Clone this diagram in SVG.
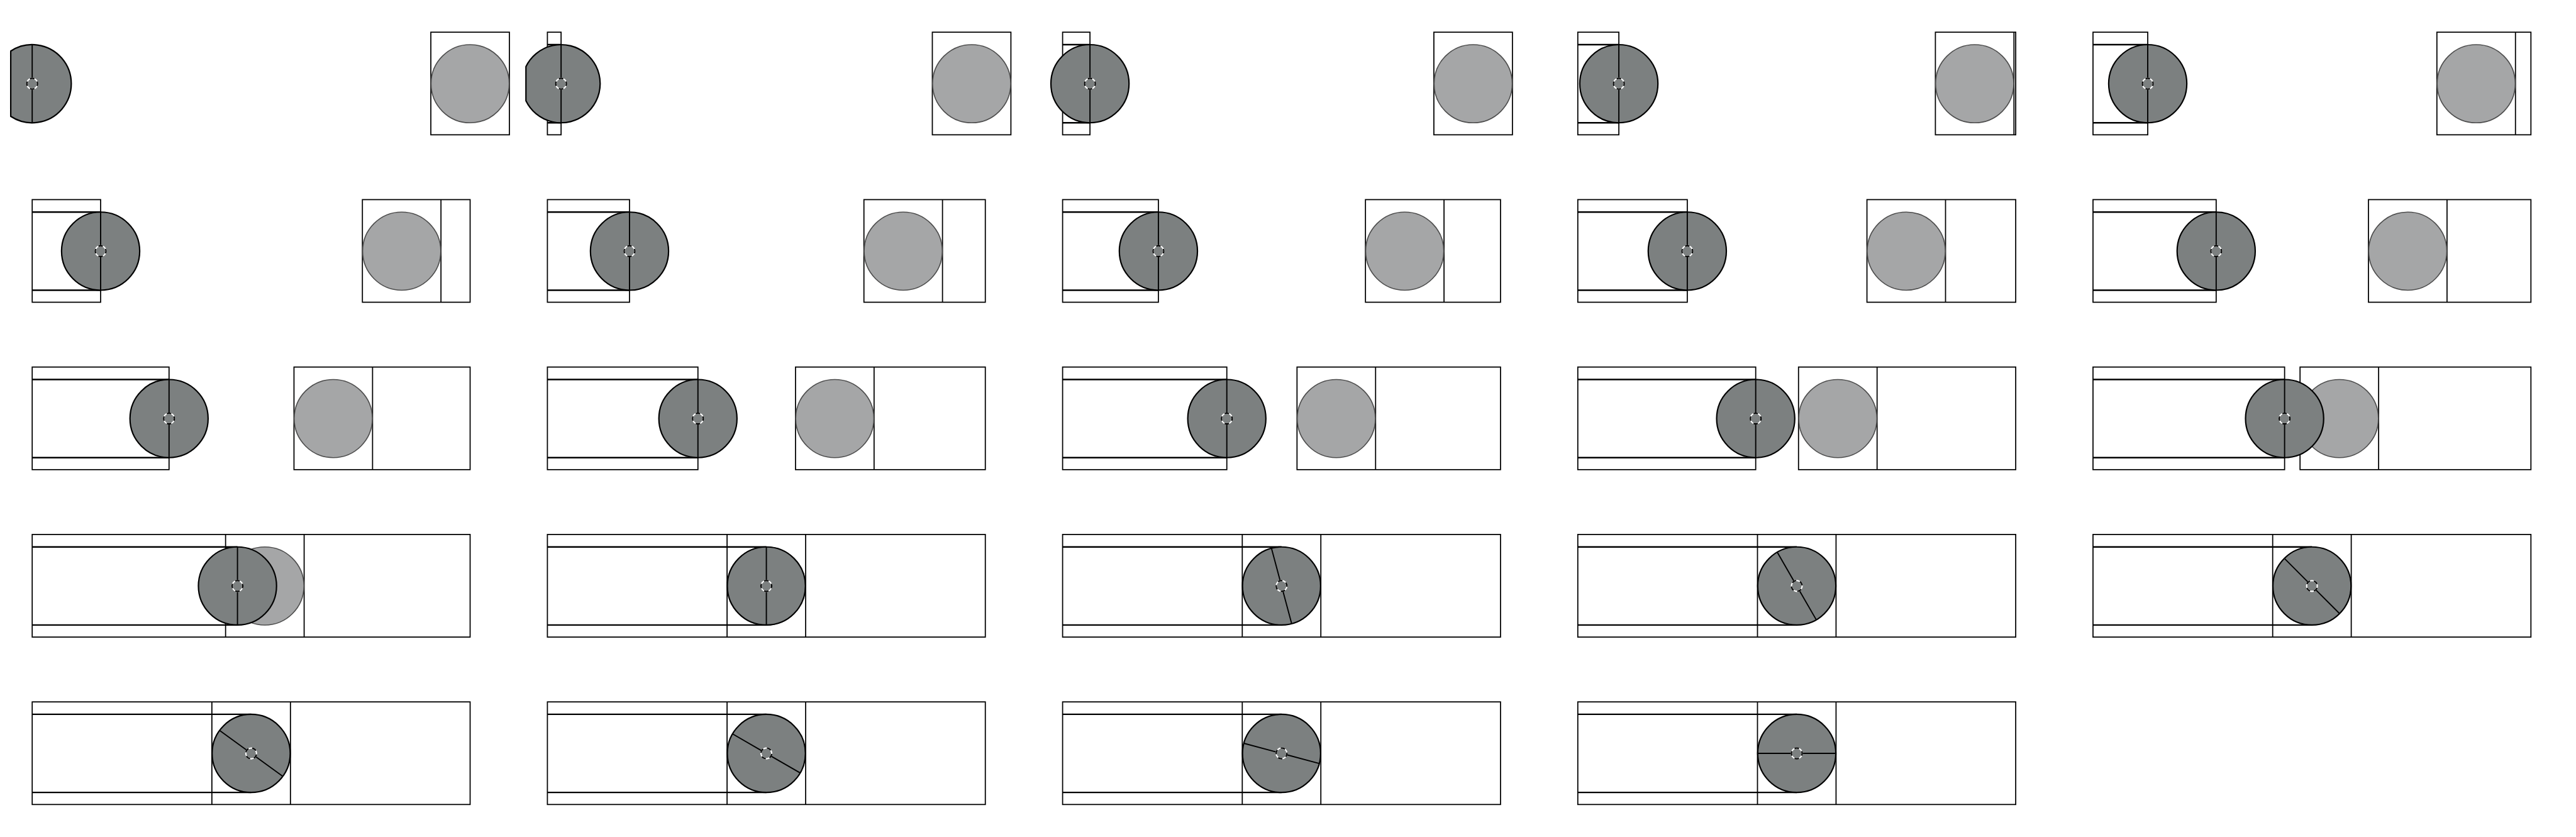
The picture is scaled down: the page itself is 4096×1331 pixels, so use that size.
<svg xmlns="http://www.w3.org/2000/svg" width="4096" height="1331" viewBox="0 0 4096 1331">
<style>
.r{fill:none;stroke:#000;stroke-width:2.6}
.t{fill:none;stroke:#000;stroke-width:3.4}
.l{fill:#a5a6a7;stroke:#4d4d4d;stroke-width:2.4}
.d{fill:#7c8080;stroke:#000;stroke-width:3.2}
.s{fill:none;stroke:#000;stroke-width:2.8}
.hw{fill:none;stroke:#fff;stroke-width:3}
.hb{fill:none;stroke:#000;stroke-width:3;stroke-dasharray:5.4 4.6;stroke-dashoffset:2.7}
</style>
<defs>
<g id="h"><path class="s" d="M0-91V-12.5M0 12.5V91"/><circle class="hw" r="12.5"/><circle class="hb" r="12.5" pathLength="40"/></g>
</defs>
<rect width="4096" height="1331" fill="#fff"/>
<g transform="scale(.682667)">
<g id="f0" transform="translate(75 195)"><rect class="r" x="928.5" y="-120" width="183" height="239"/><circle class="l" cx="1020" r="91"/><path class="d" d="M-50-76A91 91 0 1 1-50 76Z"/><use href="#h"/></g>
<g id="f1" transform="translate(1275 195)"><rect class="r" x="896.6" y="-120" width="183" height="239"/><circle class="l" cx="988.125" r="91"/><rect class="r" y="-120" width="31.875" height="239"/><path class="t" d="M0-91H31.875M0 91H31.875"/><path class="d" transform="translate(31.875)" d="M-81.875-39.7A91 91 0 1 1-81.875 39.7Z"/><use href="#h" transform="translate(31.875)"/></g>
<g id="f2" transform="translate(2475 195)"><rect class="r" x="864.75" y="-120" width="183" height="239"/><circle class="l" cx="956.25" r="91"/><rect class="r" y="-120" width="63.75" height="239"/><path class="t" d="M0-91H63.75M0 91H63.75"/><circle class="d" cx="63.75" r="91"/><use href="#h" transform="translate(63.75)"/></g>
<g id="f3" transform="translate(3675 195)"><rect class="r" x="832.9" y="-120" width="187.1" height="239"/><path class="r" d="M1015.9-120V119"/><circle class="l" cx="924.375" r="91"/><rect class="r" y="-120" width="95.625" height="239"/><path class="t" d="M0-91H95.625M0 91H95.625"/><circle class="d" cx="95.625" r="91"/><use href="#h" transform="translate(95.625)"/></g>
<g id="f4" transform="translate(4875 195)"><rect class="r" x="801" y="-120" width="219" height="239"/><path class="r" d="M984-120V119"/><circle class="l" cx="892.5" r="91"/><rect class="r" y="-120" width="127.5" height="239"/><path class="t" d="M0-91H127.5M0 91H127.5"/><circle class="d" cx="127.5" r="91"/><use href="#h" transform="translate(127.5)"/></g>
<g id="f5" transform="translate(75 585)"><rect class="r" x="769.1" y="-120" width="250.9" height="239"/><path class="r" d="M952.1-120V119"/><circle class="l" cx="860.625" r="91"/><rect class="r" y="-120" width="159.375" height="239"/><path class="t" d="M0-91H159.375M0 91H159.375"/><circle class="d" cx="159.375" r="91"/><use href="#h" transform="translate(159.375)"/></g>
<g id="f6" transform="translate(1275 585)"><rect class="r" x="737.25" y="-120" width="282.75" height="239"/><path class="r" d="M920.25-120V119"/><circle class="l" cx="828.75" r="91"/><rect class="r" y="-120" width="191.25" height="239"/><path class="t" d="M0-91H191.25M0 91H191.25"/><circle class="d" cx="191.25" r="91"/><use href="#h" transform="translate(191.25)"/></g>
<g id="f7" transform="translate(2475 585)"><rect class="r" x="705.4" y="-120" width="314.6" height="239"/><path class="r" d="M888.4-120V119"/><circle class="l" cx="796.875" r="91"/><rect class="r" y="-120" width="223.125" height="239"/><path class="t" d="M0-91H223.125M0 91H223.125"/><circle class="d" cx="223.125" r="91"/><use href="#h" transform="translate(223.125)"/></g>
<g id="f8" transform="translate(3675 585)"><rect class="r" x="673.5" y="-120" width="346.5" height="239"/><path class="r" d="M856.5-120V119"/><circle class="l" cx="765" r="91"/><rect class="r" y="-120" width="255" height="239"/><path class="t" d="M0-91H255M0 91H255"/><circle class="d" cx="255" r="91"/><use href="#h" transform="translate(255)"/></g>
<g id="f9" transform="translate(4875 585)"><rect class="r" x="641.6" y="-120" width="378.4" height="239"/><path class="r" d="M824.6-120V119"/><circle class="l" cx="733.125" r="91"/><rect class="r" y="-120" width="286.875" height="239"/><path class="t" d="M0-91H286.875M0 91H286.875"/><circle class="d" cx="286.875" r="91"/><use href="#h" transform="translate(286.875)"/></g>
<g id="f10" transform="translate(75 975)"><rect class="r" x="609.75" y="-120" width="410.25" height="239"/><path class="r" d="M792.75-120V119"/><circle class="l" cx="701.25" r="91"/><rect class="r" y="-120" width="318.75" height="239"/><path class="t" d="M0-91H318.75M0 91H318.75"/><circle class="d" cx="318.75" r="91"/><use href="#h" transform="translate(318.75)"/></g>
<g id="f11" transform="translate(1275 975)"><rect class="r" x="577.9" y="-120" width="442.1" height="239"/><path class="r" d="M760.9-120V119"/><circle class="l" cx="669.375" r="91"/><rect class="r" y="-120" width="350.625" height="239"/><path class="t" d="M0-91H350.625M0 91H350.625"/><circle class="d" cx="350.625" r="91"/><use href="#h" transform="translate(350.625)"/></g>
<g id="f12" transform="translate(2475 975)"><rect class="r" x="546" y="-120" width="474" height="239"/><path class="r" d="M729-120V119"/><circle class="l" cx="637.5" r="91"/><rect class="r" y="-120" width="382.5" height="239"/><path class="t" d="M0-91H382.5M0 91H382.5"/><circle class="d" cx="382.5" r="91"/><use href="#h" transform="translate(382.5)"/></g>
<g id="f13" transform="translate(3675 975)"><rect class="r" x="514.1" y="-120" width="505.9" height="239"/><path class="r" d="M697.1-120V119"/><circle class="l" cx="605.625" r="91"/><rect class="r" y="-120" width="414.375" height="239"/><path class="t" d="M0-91H414.375M0 91H414.375"/><circle class="d" cx="414.375" r="91"/><use href="#h" transform="translate(414.375)"/></g>
<g id="f14" transform="translate(4875 975)"><rect class="r" x="482.25" y="-120" width="537.75" height="239"/><path class="r" d="M665.25-120V119"/><circle class="l" cx="573.75" r="91"/><rect class="r" y="-120" width="446.25" height="239"/><path class="t" d="M0-91H446.25M0 91H446.25"/><circle class="d" cx="446.25" r="91"/><use href="#h" transform="translate(446.25)"/></g>
<g id="f15" transform="translate(75 1365)"><rect class="r" y="-120" width="1020" height="239"/><path class="r" d="M450.4-120V119M633.4-120V119"/><circle class="l" cx="541.875" r="91"/><path class="t" d="M0-91H478.125M0 91H478.125"/><circle class="d" cx="478.125" r="91"/><use href="#h" transform="translate(478.125)"/></g>
<g id="f16" transform="translate(1275 1365)"><rect class="r" y="-120" width="1020" height="239"/><path class="r" d="M418.5-120V119M601.5-120V119"/><circle class="l" cx="510" r="91"/><path class="t" d="M0-91H510M0 91H510"/><circle class="d" cx="510" r="91"/><use href="#h" transform="translate(510)"/></g>
<g id="f17" transform="translate(2475 1365)"><rect class="r" y="-120" width="1020" height="239"/><path class="r" d="M418.5-120V119M601.5-120V119"/><path class="t" d="M0-91H510M0 91H510"/><circle class="d" cx="510" r="91"/><use href="#h" transform="translate(510) rotate(-15)"/></g>
<g id="f18" transform="translate(3675 1365)"><rect class="r" y="-120" width="1020" height="239"/><path class="r" d="M418.5-120V119M601.5-120V119"/><path class="t" d="M0-91H510M0 91H510"/><circle class="d" cx="510" r="91"/><use href="#h" transform="translate(510) rotate(-30)"/></g>
<g id="f19" transform="translate(4875 1365)"><rect class="r" y="-120" width="1020" height="239"/><path class="r" d="M418.5-120V119M601.5-120V119"/><path class="t" d="M0-91H510M0 91H510"/><circle class="d" cx="510" r="91"/><use href="#h" transform="translate(510) rotate(-45)"/></g>
<g id="f20" transform="translate(75 1755)"><rect class="r" y="-120" width="1020" height="239"/><path class="r" d="M418.5-120V119M601.5-120V119"/><path class="t" d="M0-91H510M0 91H510"/><circle class="d" cx="510" r="91"/><use href="#h" transform="translate(510) rotate(-54)"/></g>
<g id="f21" transform="translate(1275 1755)"><rect class="r" y="-120" width="1020" height="239"/><path class="r" d="M418.5-120V119M601.5-120V119"/><path class="t" d="M0-91H510M0 91H510"/><circle class="d" cx="510" r="91"/><use href="#h" transform="translate(510) rotate(-60)"/></g>
<g id="f22" transform="translate(2475 1755)"><rect class="r" y="-120" width="1020" height="239"/><path class="r" d="M418.5-120V119M601.5-120V119"/><path class="t" d="M0-91H510M0 91H510"/><circle class="d" cx="510" r="91"/><use href="#h" transform="translate(510) rotate(-75)"/></g>
<g id="f23" transform="translate(3675 1755)"><rect class="r" y="-120" width="1020" height="239"/><path class="r" d="M418.5-120V119M601.5-120V119"/><path class="t" d="M0-91H510M0 91H510"/><circle class="d" cx="510" r="91"/><use href="#h" transform="translate(510) rotate(-90)"/></g>
</g>
</svg>
